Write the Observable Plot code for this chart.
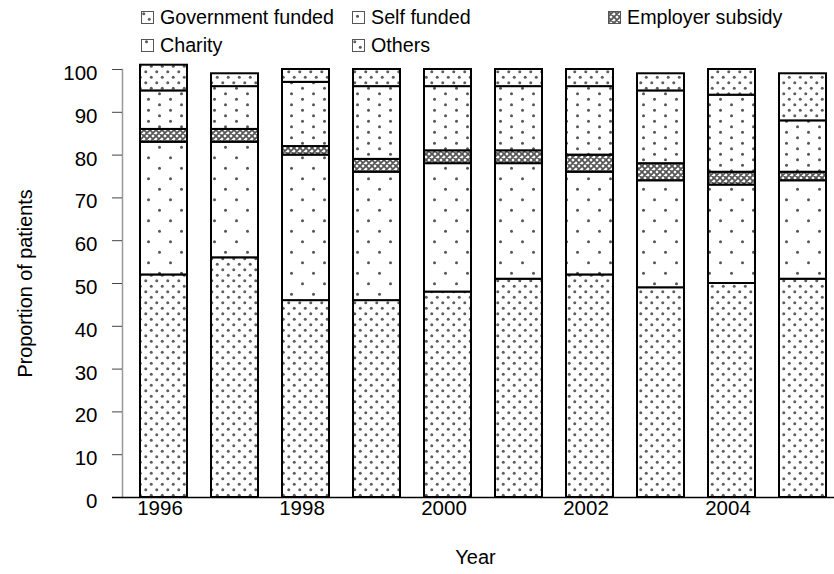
<!DOCTYPE html>
<html><head><meta charset="utf-8">
<script src="https://cdn.jsdelivr.net/npm/d3@7"></script>
<script src="https://cdn.jsdelivr.net/npm/@observablehq/plot@0.6"></script>
<style>
body{margin:0;background:#fff;font-family:"Liberation Sans",Arial,sans-serif;color:#000;}
#legend{position:relative;height:58px;width:834px;font-size:19.7px;}
.item{position:absolute;display:flex;align-items:center;white-space:nowrap;height:22px;}
.item svg{margin-right:6px;}
</style></head><body>
<svg width="0" height="0" style="position:absolute">
<defs>
<pattern id="pat-dense" width="11" height="11" patternUnits="userSpaceOnUse">
<rect width="11" height="11" fill="#fff"/>
<circle cx="2.75" cy="2.75" r="1.5" fill="#5e5e5e"/>
<circle cx="8.25" cy="8.25" r="1.5" fill="#5e5e5e"/>
</pattern>
<pattern id="pat-charity" width="22" height="11" patternUnits="userSpaceOnUse">
<rect width="22" height="11" fill="#fff"/>
<circle cx="5.5" cy="2.75" r="1.5" fill="#555"/>
<circle cx="16.5" cy="8.25" r="1.5" fill="#555"/>
</pattern>
<pattern id="pat-self" width="22" height="21" patternUnits="userSpaceOnUse">
<rect width="22" height="21" fill="#fff"/>
<circle cx="5.5" cy="5.25" r="1.5" fill="#555"/>
<circle cx="16.5" cy="15.75" r="1.5" fill="#555"/>
</pattern>
<pattern id="pat-emp" width="6" height="6" patternUnits="userSpaceOnUse">
<rect width="6" height="6" fill="#fff"/>
<path d="M0,0L6,6M6,0L0,6M-1,5L1,7M5,-1L7,1M5,7L7,5M-1,1L1,-1" stroke="#555" stroke-width="1.8"/>
</pattern>
</defs>
</svg>
<div id="legend"></div>
<div id="chart"></div>
<script>
const years = [1996, 1997, 1998, 1999, 2000, 2001, 2002, 2003, 2004, 2005];
const labeledYears = [1996, 1998, 2000, 2002, 2004];
const types = ["Government funded", "Self funded", "Employer subsidy", "Charity", "Others"];
const governmentFunded = [52, 56, 46, 46, 48, 51, 52, 49, 50, 51];
const selfFunded       = [31, 27, 34, 30, 30, 27, 24, 25, 23, 23];
const employerSubsidy  = [3, 3, 2, 3, 3, 3, 4, 4, 3, 2];
const charity          = [9, 10, 15, 17, 15, 15, 16, 17, 18, 12];
const others           = [6, 3, 3, 4, 4, 4, 4, 4, 6, 11];
const yTicks = [0, 10, 20, 30, 40, 50, 60, 70, 80, 90, 100];

const series = [governmentFunded, selfFunded, employerSubsidy, charity, others];
const patternOf = {
  "Government funded": "url(#pat-dense)",
  "Self funded": "url(#pat-self)",
  "Employer subsidy": "url(#pat-emp)",
  "Charity": "url(#pat-charity)",
  "Others": "url(#pat-dense)"
};
const rows = years.flatMap((yr, i) => types.map((t, j) => ({year: yr, type: t, value: series[j][i]})));

// Legend (HTML, above the SVG)
const legendPos = {
  "Government funded": [141, 6],
  "Self funded": [352, 6],
  "Employer subsidy": [608, 6],
  "Charity": [141, 34],
  "Others": [352, 34]
};
const legend = document.getElementById("legend");
types.forEach(t => {
  const [l, tp] = legendPos[t];
  const div = document.createElement("div");
  div.className = "item";
  div.style.left = l + "px";
  div.style.top = tp + "px";
  div.innerHTML = `<svg width="13" height="13"><rect x="0.5" y="0.5" width="12" height="12" fill="${patternOf[t]}" stroke="#555" stroke-width="1"/></svg><span>${t}</span>`;
  legend.appendChild(div);
});

const font = "'Liberation Sans', Arial, sans-serif";
const plot = Plot.plot({
  width: 834,
  height: 516,
  marginLeft: 112,
  marginRight: 0,
  marginTop: 11,
  marginBottom: 77,
  style: {fontFamily: font, fontSize: "20px", color: "#000", background: "#fff"},
  x: {type: "band", domain: years, range: [112, 854.5], padding: 0.345, label: null},
  y: {domain: [0, 100], label: null},
  color: {type: "identity"},
  marks: [
    Plot.barY(rows, {x: "year", y: "value", z: "type", order: types, fill: d => patternOf[d.type], stroke: "#000", strokeWidth: 2}),
    Plot.frame({anchor: "left", dx: 10, stroke: "#999", strokeWidth: 1.5}),
    Plot.axisY({ticks: yTicks, tickSize: 10, dx: 10, tickFormat: () => "", label: null, stroke: "#444"}),
    Plot.axisY({ticks: yTicks, tickSize: 0, tickPadding: 25, dx: 10, dy: 4, fontSize: 20.5, label: null}),
    Plot.axisX({ticks: labeledYears, tickSize: 0, tickPadding: 3, dx: -4, tickFormat: d => String(d), fontSize: 20.5, label: null}),
    Plot.ruleY([0], {stroke: "#000", strokeWidth: 1.5}),
    Plot.text(["Year"], {frameAnchor: "bottom", dy: 66, dx: 2, fontSize: 20}),
    Plot.text(["Proportion of patients"], {frameAnchor: "left", textAnchor: "middle", dx: -87, rotate: -90, fontSize: 19.8})
  ]
});
document.getElementById("chart").appendChild(plot);
</script>
</body></html>
